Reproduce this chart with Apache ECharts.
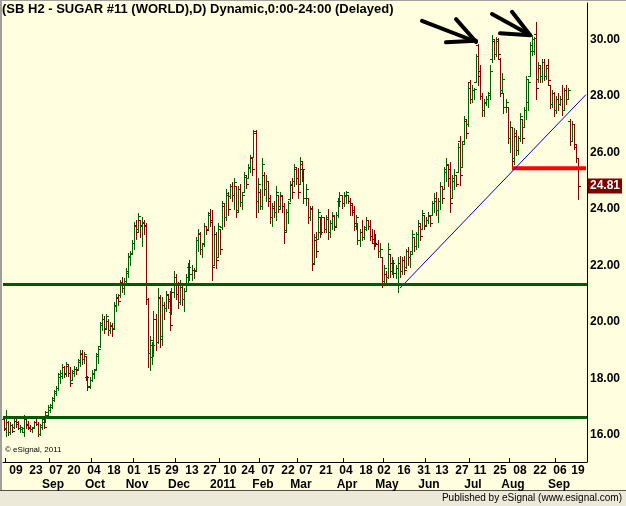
<!DOCTYPE html>
<html>
<head>
<meta charset="utf-8">
<script src="https://cdn.jsdelivr.net/npm/echarts@6/dist/echarts.min.js"></script>
<style>
  html, body { margin: 0; padding: 0; background: #ffffe0; }
  #chart { width: 626px; height: 506px; }
</style>
</head>
<body>
<div id="chart"></div>
<script>
// SB H2 (sugar #11, Mar 2012 contract), daily OHLC
const firstDay = '2010-07-30';
const holidays = ['2010-09-06', '2010-11-25', '2010-12-24', '2011-01-17', '2011-02-21',
  '2011-04-22', '2011-05-30', '2011-07-04', '2011-09-05'];

const opens = [
  16.55,16.20,16.45,16.10,16.35,16.30,16.50,16.45,16.25,16.20,
  16.10,16.55,16.40,16.30,16.20,16.30,16.45,16.40,16.05,16.30,
  16.55,16.45,16.70,16.90,17.00,17.25,17.50,17.65,18.05,18.10,
  18.40,18.20,18.45,18.20,17.95,18.20,18.35,18.35,18.60,18.85,
  18.70,18.80,18.05,17.70,17.95,18.15,18.35,18.80,19.15,19.95,
  20.10,19.80,20.05,19.70,19.85,19.80,20.55,20.85,20.95,21.40,
  21.20,21.45,21.75,22.30,22.45,22.80,23.40,23.30,23.60,23.40,
  23.50,23.45,20.80,18.90,18.75,19.20,20.10,19.30,20.85,19.50,
  20.60,20.50,20.95,20.80,20.35,21.05,21.60,21.00,20.70,21.25,
  20.80,21.10,21.60,21.95,21.70,21.85,21.85,22.90,23.10,22.60,
  22.80,23.40,23.30,23.85,23.60,22.00,23.10,22.30,23.30,23.35,
  24.10,23.70,24.50,24.45,24.80,24.50,24.80,23.95,24.70,24.25,
  24.60,25.15,25.10,25.45,25.80,25.85,26.75,24.30,24.60,24.10,
  25.20,24.70,25.00,24.40,23.70,24.05,23.90,24.50,24.10,24.45,
  24.10,23.25,23.90,24.35,24.85,25.00,25.40,25.10,24.90,25.60,
  25.40,24.40,24.40,23.70,24.05,22.10,22.90,22.95,23.70,23.20,
  23.70,23.30,23.65,23.20,23.50,23.75,23.40,23.80,24.30,24.50,
  24.20,24.45,24.50,24.30,24.15,23.95,23.40,23.50,22.90,23.20,
  23.00,23.35,23.60,23.40,23.05,22.95,22.80,22.75,22.50,22.30,
  21.45,21.70,21.60,22.40,21.80,22.10,21.75,21.30,22.10,21.80,
  22.20,21.95,22.50,22.30,22.50,23.00,22.70,23.10,23.40,23.30,
  23.80,23.45,23.60,23.75,23.80,24.20,24.30,23.95,24.30,24.80,
  24.70,25.30,25.55,25.40,24.40,25.00,25.20,25.30,26.40,25.50,
  26.40,27.10,27.00,28.50,27.90,28.20,28.50,29.80,28.90,28.00,
  27.50,27.75,27.90,28.10,29.30,29.95,29.50,30.00,29.30,28.20,
  28.10,27.60,27.60,26.50,26.90,25.80,26.60,26.10,26.50,27.20,
  26.90,27.50,27.80,28.70,29.60,29.60,30.20,28.60,29.00,28.70,
  29.20,28.70,29.10,28.40,27.70,28.10,27.50,27.90,27.70,27.90,
  27.50,28.20,27.90,27.10,26.40,27.00,26.20,25.80
];
const highs = [
  16.65,16.90,16.50,16.45,16.40,16.55,16.65,16.50,16.35,16.30,
  16.70,16.60,16.50,16.35,16.30,16.50,16.55,16.45,16.40,16.55,
  16.60,16.85,17.05,17.10,17.35,17.60,17.75,18.20,18.30,18.50,
  18.45,18.60,18.50,18.40,18.30,18.45,18.40,18.70,19.00,19.00,
  18.95,18.80,18.10,18.05,18.30,18.35,18.90,19.15,20.00,20.30,
  20.20,20.30,20.10,20.00,19.95,20.70,21.00,21.00,21.50,21.60,
  21.55,21.90,22.45,22.50,22.90,23.55,23.60,23.85,23.60,23.70,
  23.60,23.50,20.85,19.50,19.30,20.40,20.30,21.20,20.95,20.90,
  20.70,21.10,21.00,21.10,21.20,21.80,21.70,21.40,21.50,21.30,
  21.20,21.70,22.10,22.20,22.00,21.90,23.00,23.30,23.20,22.80,
  23.50,23.40,23.90,24.00,23.95,23.40,23.20,23.50,23.30,24.30,
  24.20,24.70,24.60,24.90,24.95,25.10,24.80,24.80,24.90,24.60,
  25.30,25.20,25.60,25.90,25.80,26.80,26.80,25.10,24.70,25.80,
  25.30,25.20,25.00,24.50,24.20,24.30,24.80,24.50,24.60,24.50,
  24.20,24.00,24.30,25.00,25.10,25.60,25.50,25.45,25.85,25.70,
  25.40,24.90,24.40,24.10,24.10,23.10,23.20,24.00,23.70,23.80,
  23.70,23.80,24.00,23.60,23.90,23.80,23.90,24.40,24.60,24.50,
  24.60,24.65,24.50,24.40,24.20,24.10,23.80,23.50,23.30,23.60,
  23.40,23.70,23.60,23.60,23.30,23.25,23.10,22.90,22.80,22.30,
  22.00,21.80,22.80,22.40,22.30,22.20,22.00,22.30,22.35,22.30,
  22.35,22.60,22.65,22.50,23.25,23.00,23.20,23.60,23.50,23.95,
  23.80,23.70,23.90,23.80,24.30,24.55,24.60,24.40,24.95,24.80,
  25.50,25.80,25.60,25.65,25.20,25.40,25.20,26.35,26.60,26.40,
  27.30,27.20,28.50,28.55,28.40,28.30,29.50,29.85,29.10,28.10,
  27.90,28.00,28.14,29.10,30.15,30.00,30.10,30.05,29.35,28.80,
  28.10,27.90,27.60,27.10,26.90,26.85,26.80,26.60,27.40,27.20,
  27.60,28.70,28.60,29.90,30.15,30.10,30.62,29.20,29.10,29.32,
  29.30,29.10,29.30,28.40,28.20,28.14,28.00,28.10,28.00,28.38,
  28.30,28.40,28.30,27.20,27.10,27.00,26.26,25.80
];
const lows = [
  16.18,15.95,16.00,16.05,16.10,16.25,16.30,16.20,16.12,16.15,
  15.98,16.25,16.20,16.15,16.12,16.30,16.35,15.95,16.00,16.20,
  16.25,16.45,16.60,16.80,16.95,17.20,17.40,17.60,17.85,18.00,
  18.05,18.10,18.10,17.75,17.95,18.10,18.15,18.30,18.45,18.50,
  18.55,17.95,17.60,17.65,17.90,18.00,18.30,18.55,19.10,19.70,
  19.60,19.75,19.55,19.60,19.50,19.80,20.40,20.60,20.90,21.05,
  21.00,21.30,21.60,22.00,22.40,22.60,22.95,23.20,23.00,22.70,
  23.10,20.65,18.40,18.30,18.50,18.80,19.00,19.25,19.10,19.20,
  20.10,20.40,20.50,19.70,20.30,20.90,20.80,20.50,20.65,20.60,
  20.40,21.10,21.40,21.50,21.50,21.55,21.85,22.50,22.40,22.30,
  22.70,23.10,23.30,23.40,21.50,22.00,21.90,22.30,22.40,23.30,
  23.40,23.60,23.80,24.40,24.30,24.00,23.70,23.90,24.10,24.00,
  24.60,24.75,25.10,25.30,25.20,25.85,23.70,23.90,24.00,24.00,
  24.50,24.30,24.10,23.50,23.40,23.70,23.60,23.90,24.00,23.90,
  22.80,23.20,23.50,24.30,24.40,24.80,24.90,24.40,24.90,25.00,
  24.20,24.15,23.50,23.60,21.85,22.10,22.30,22.95,23.00,23.10,
  23.20,23.20,22.95,23.00,23.30,23.25,23.40,23.70,24.10,24.05,
  24.10,24.20,24.20,23.80,23.80,23.25,23.30,22.75,22.70,22.90,
  22.95,23.25,23.30,22.90,22.80,22.60,22.70,22.30,22.35,21.25,
  21.30,21.40,21.55,21.60,21.70,21.60,21.55,21.05,21.60,21.70,
  21.70,21.90,22.00,21.95,22.45,22.50,22.60,22.65,22.90,23.30,
  23.30,23.40,23.50,23.40,23.80,23.90,23.80,23.55,24.00,24.20,
  24.70,25.00,24.80,23.90,24.40,24.70,24.80,25.30,24.85,25.50,
  26.35,26.50,26.95,27.75,27.80,27.90,28.50,28.40,27.90,27.30,
  27.30,27.67,27.60,27.90,29.20,29.30,29.40,29.35,28.00,28.10,
  27.40,27.45,26.35,26.00,25.44,25.60,25.90,25.95,26.40,26.35,
  26.90,27.20,27.50,28.70,29.45,29.50,27.90,28.50,28.50,28.50,
  28.55,28.60,28.40,27.56,27.60,27.30,27.40,27.50,27.67,27.32,
  27.50,27.70,27.90,26.26,26.40,26.14,25.67,24.37
];
const closes = [
  16.25,16.60,16.10,16.35,16.15,16.50,16.40,16.25,16.30,16.25,
  16.55,16.35,16.25,16.20,16.25,16.45,16.40,16.05,16.35,16.45,
  16.30,16.80,17.00,17.05,17.30,17.55,17.65,18.15,18.20,18.40,
  18.15,18.50,18.20,17.85,18.25,18.35,18.30,18.65,18.90,18.70,
  18.85,18.05,17.75,17.95,18.20,18.30,18.85,19.05,19.90,20.10,
  19.75,20.20,19.70,19.90,19.75,20.60,20.90,20.75,21.40,21.20,
  21.45,21.80,22.35,22.40,22.80,23.45,23.20,23.75,23.45,23.55,
  23.40,20.80,18.90,19.35,19.20,20.10,19.30,20.90,19.40,20.60,
  20.50,21.00,20.75,19.90,21.05,21.60,21.00,20.70,21.35,20.80,
  21.10,21.60,21.95,21.70,21.85,21.80,22.90,23.15,22.60,22.75,
  23.40,23.25,23.80,23.55,21.95,23.10,22.20,23.40,22.60,24.20,
  23.70,24.55,24.00,24.80,24.50,24.95,23.90,24.70,24.25,24.50,
  25.20,24.90,25.50,25.80,25.40,26.70,24.30,24.90,24.10,25.60,
  24.70,25.00,24.30,23.70,24.10,23.90,24.60,24.00,24.50,24.10,
  23.20,23.90,24.20,24.90,24.60,25.50,25.10,24.60,25.70,25.40,
  24.40,24.70,23.70,24.00,22.05,23.00,22.50,23.90,23.20,23.70,
  23.30,23.70,23.20,23.50,23.80,23.35,23.80,24.30,24.50,24.20,
  24.50,24.60,24.30,24.20,23.90,23.40,23.70,22.90,23.20,23.00,
  23.30,23.60,23.40,23.05,22.95,22.80,22.75,22.50,22.60,21.45,
  21.90,21.60,22.60,21.80,22.10,21.75,21.90,22.10,21.80,22.20,
  21.85,22.50,22.30,22.40,23.10,22.70,23.10,23.50,23.05,23.85,
  23.40,23.60,23.80,23.50,24.20,24.40,23.95,24.30,24.80,24.40,
  25.40,25.60,25.10,24.20,25.10,25.20,24.90,26.20,25.20,26.30,
  27.20,26.70,28.30,27.90,28.20,28.25,29.40,28.70,28.00,27.50,
  27.80,27.90,28.05,28.90,30.00,29.50,29.95,29.50,28.20,28.60,
  27.60,27.80,26.50,26.90,25.70,26.70,26.10,26.50,27.30,26.50,
  27.50,28.60,28.50,29.80,30.00,30.05,28.30,29.10,28.70,29.20,
  28.70,29.00,28.55,27.70,28.10,27.50,27.90,27.70,27.90,27.50,
  28.20,27.90,28.20,26.40,27.00,26.30,25.80,24.81
];

// every other Monday gets a day label; month names sit at the first session of each month
const tickDates = ['2010-08-09', '2010-08-23', '2010-09-07', '2010-09-20', '2010-10-04', '2010-10-18',
  '2010-11-01', '2010-11-15', '2010-11-29', '2010-12-13', '2010-12-27', '2011-01-10', '2011-01-24',
  '2011-02-07', '2011-02-22', '2011-03-07', '2011-03-21', '2011-04-04', '2011-04-18', '2011-05-02',
  '2011-05-16', '2011-05-31', '2011-06-13', '2011-06-27', '2011-07-11', '2011-07-25', '2011-08-08',
  '2011-08-22', '2011-09-06', '2011-09-19'];
const monthDates = ['2010-08-02', '2010-09-01', '2010-10-01', '2010-11-01', '2010-12-01', '2011-01-03',
  '2011-02-01', '2011-03-01', '2011-04-01', '2011-05-02', '2011-06-01', '2011-07-01', '2011-08-01',
  '2011-09-01'];
const monthNames = ['', 'Sep', 'Oct', 'Nov', 'Dec', '2011', 'Feb', 'Mar', 'Apr', 'May', 'Jun', 'Jul', 'Aug', 'Sep'];
const yTicks = [16, 18, 20, 22, 24, 26, 28, 30];

// drawn studies
const supportLevels = [16.64, 21.34];
const breakLevel = [254, 25.44];          // red line starts at this bar
const trendLine = [[198, 21.2], [291, 28.05]];
const arrowStrokes = [
  [[209.4, 30.66], [236.4, 29.92]],
  [[225.5, 30.72], [236.4, 29.92]],
  [[221, 29.90], [236.4, 29.96]],
  [[243.5, 30.90], [263.4, 30.16]],
  [[253.9, 30.98], [263.4, 30.16]],
  [[247.7, 30.22], [263.4, 30.15]]
];

const upColor = '#006000';
const downColor = '#880000';
const font = '"Liberation Sans", Arial, sans-serif';

function tradingDays(start, count, skip) {
  const out = [];
  const d = new Date(start + 'T00:00:00Z');
  while (out.length < count) {
    const s = d.toISOString().slice(0, 10);
    const wd = d.getUTCDay();
    if (wd !== 0 && wd !== 6 && skip.indexOf(s) < 0) out.push(s);
    d.setUTCDate(d.getUTCDate() + 1);
  }
  return out;
}

const dates = tradingDays(firstDay, closes.length, holidays);
const bars = dates.map((d, i) => [i, opens[i], highs[i], lows[i], closes[i]]);
const lastClose = closes[closes.length - 1];
const xMax = dates.length + 3;   // eSignal leaves a few empty slots on the right

function renderBar(params, api) {
  const i = api.value(0);
  const o = api.value(1), h = api.value(2), l = api.value(3), c = api.value(4);
  const top = api.coord([i, h]);
  const bot = api.coord([i, l]);
  const px = Math.floor(top[0]);
  const yt = Math.round(top[1]);
  const yb = Math.round(bot[1]);
  const yo = Math.round(api.coord([i, o])[1]);
  const yc = Math.round(api.coord([i, c])[1]);
  const color = c >= o ? upColor : downColor;
  return {
    type: 'group',
    children: [
      { type: 'rect', shape: { x: px, y: yt, width: 1, height: Math.max(1, yb - yt + 1) }, style: { fill: color } },
      { type: 'rect', shape: { x: px - 2, y: yo, width: 2, height: 1 }, style: { fill: color } },
      { type: 'rect', shape: { x: px + 1, y: yc, width: 2, height: 1 }, style: { fill: color } }
    ]
  };
}

const lineMarks = [];
supportLevels.forEach(v => {
  lineMarks.push({ yAxis: v, lineStyle: { color: '#005a00', width: 3 } });
});
arrowStrokes.forEach(s => {
  lineMarks.push([
    { coord: s[0], lineStyle: { color: '#000', width: 4, cap: 'round' } },
    { coord: s[1] }
  ]);
});
lineMarks.push({
  yAxis: lastClose,
  lineStyle: { color: 'rgba(0,0,0,0)', width: 0 },
  label: {
    show: true, position: 'end', distance: 1,
    formatter: lastClose.toFixed(2),
    color: '#fff', backgroundColor: '#800000',
    fontFamily: font, fontSize: 12, fontWeight: 'bold',
    padding: [2, 2, 1, 2]
  }
});

const tickSet = new Set(tickDates);
const monthSet = new Set(monthDates);

const chart = echarts.init(document.getElementById('chart'));
chart.setOption({
  backgroundColor: '#ffffe0',
  animation: false,
  title: {
    text: '(SB H2 - SUGAR #11 (WORLD),D) Dynamic,0:00-24:00 (Delayed)',
    left: 2, top: 3, padding: 0,
    textStyle: { fontFamily: font, fontSize: 13, fontWeight: 'bold', color: '#000' }
  },
  grid: { left: 3, right: 39, top: 3, bottom: 44 },
  xAxis: [{
    type: 'category',
    data: dates,
    max: xMax,
    boundaryGap: true,
    axisLine: { lineStyle: { color: '#000', width: 1 } },
    axisTick: {
      show: true, inside: true, length: 4,
      interval: (i, v) => monthSet.has(v),
      lineStyle: { color: '#000' }
    },
    axisLabel: {
      interval: (i, v) => tickSet.has(v),
      formatter: v => (v ? v.slice(8) : ''),
      margin: 3, lineHeight: 12,
      fontFamily: font, fontSize: 12, fontWeight: 'bold', color: '#000'
    },
    splitLine: { show: false }
  }, {
    type: 'category',
    data: dates,
    max: xMax,
    position: 'bottom',
    offset: 15,
    axisLine: { show: false },
    axisTick: { show: false },
    axisLabel: {
      interval: (i, v) => monthSet.has(v),
      formatter: v => monthNames[monthDates.indexOf(v)] || '',
      margin: 2, lineHeight: 12, padding: [0, 0, 0, 6],
      fontFamily: font, fontSize: 12, fontWeight: 'bold', color: '#000'
    },
    splitLine: { show: false }
  }],
  yAxis: {
    type: 'value',
    position: 'right',
    min: 15.044,
    max: 31.292,
    axisLine: { show: true, lineStyle: { color: '#000', width: 1 } },
    axisTick: { show: false },
    splitLine: { show: false },
    axisLabel: {
      customValues: yTicks,
      formatter: v => v.toFixed(2),
      margin: 3,
      fontFamily: font, fontSize: 12, fontWeight: 'bold', color: '#000'
    }
  },
  series: [{
    type: 'custom',
    name: 'SB H2',
    renderItem: renderBar,
    data: bars,
    encode: { x: 0, y: [1, 2, 3, 4] },
    clip: false,
    z: 2,
    markLine: {
      silent: true,
      symbol: 'none',
      animation: false,
      label: { show: false },
      lineStyle: { type: 'solid' },
      data: lineMarks
    }
  }, {
    // red break line from the August low to the right edge
    type: 'line',
    name: 'break',
    data: [breakLevel, [xMax, breakLevel[1]]],
    symbol: 'none',
    clip: false,
    z: 3,
    lineStyle: { color: '#ff0000', width: 4 },
    silent: true
  }, {
    // blue up-trend line from the May low
    type: 'line',
    name: 'trend',
    data: trendLine,
    symbol: 'none',
    clip: false,
    z: 3,
    lineStyle: { color: '#0000c8', width: 1 },
    silent: true
  }],
  graphic: [
    { type: 'rect', left: 0, top: 491, shape: { width: 626, height: 15 }, style: { fill: '#ece9d8' }, silent: true },
    { type: 'rect', left: 0, top: 490, shape: { width: 626, height: 1 }, style: { fill: '#505050' }, silent: true },
    { type: 'rect', left: 0, top: 0, shape: { width: 2, height: 490 }, style: { fill: '#a0a0a0' }, silent: true },
    { type: 'rect', left: 0, top: 0, shape: { width: 626, height: 1 }, style: { fill: '#a0a0a0' }, silent: true },
    {
      type: 'text', right: 4, top: 493,
      style: { text: 'Published by eSignal (www.esignal.com)', font: '10px ' + font, fill: '#000' }
    },
    {
      type: 'text', left: 5, top: 446,
      style: { text: '\u00a9 eSignal, 2011', font: '8px ' + font, fill: '#000' }
    }
  ]
});
</script>
</body>
</html>
